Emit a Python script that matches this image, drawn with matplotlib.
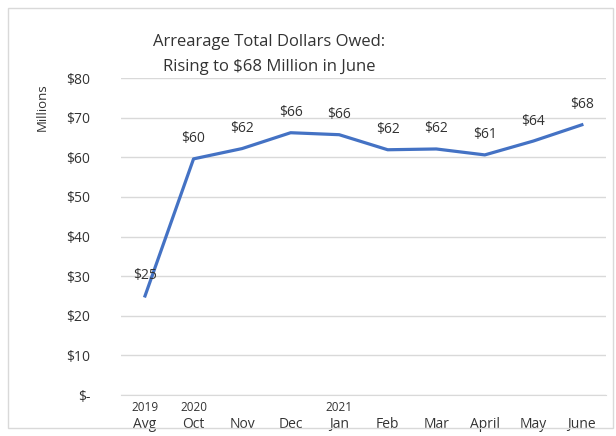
import matplotlib.pyplot as plt
from matplotlib.patches import Rectangle

months = ["Avg", "Oct", "Nov", "Dec", "Jan", "Feb", "Mar", "April", "May", "June"]
years = ["2019", "2020", "", "", "2021", "", "", "", "", ""]
owed = [25, 59.6, 62.2, 66.2, 65.7, 61.9, 62.1, 60.6, 64.1, 68.2]
labels = ["$25", "$60", "$62", "$66", "$66", "$62", "$62", "$61", "$64", "$68"]
yticks = [0, 10, 20, 30, 40, 50, 60, 70, 80]

plt.rcParams["font.family"] = ["Open Sans", "DejaVu Sans"]
txt = "#333333"

fig = plt.figure(figsize=(6.16, 4.36), dpi=100)
fig.patches.append(Rectangle((0.013, 0.018), 0.982, 0.964, transform=fig.transFigure,
                             fill=False, edgecolor="#d9d9d9", linewidth=1))

ax = fig.add_axes([0.196, 0.094, 0.788, 0.727])
x = list(range(len(months)))
ax.plot(x, owed, color="#4472C4", linewidth=2.3, zorder=3)

# data labels just above each point
for i in x:
    ax.annotate(labels[i], (i, owed[i]), xytext=(0, 9), textcoords="offset points",
                ha="center", va="bottom", fontsize=10, color=txt)

ax.set_xlim(-0.5, len(months) - 0.5)
ax.set_ylim(0, 80)
ax.set_yticks(yticks)
ax.set_yticklabels(["$-" if v == 0 else "$%d" % v for v in yticks])
ax.grid(axis="y", color="#d9d9d9", linewidth=1)
ax.set_axisbelow(True)
for s in ["top", "right", "left"]:
    ax.spines[s].set_visible(False)
ax.spines["bottom"].set_color("#d9d9d9")
ax.tick_params(axis="y", length=0, labelsize=10, labelcolor=txt, pad=22)
ax.set_xticks(x)
ax.set_xticklabels(months)
ax.tick_params(axis="x", length=0, labelsize=10, labelcolor=txt, pad=16)
for i in x:
    if years[i]:
        ax.annotate(years[i], (i, 0), xytext=(0, -4), textcoords="offset points",
                    ha="center", va="top", fontsize=8.5, color=txt)

fig.text(0.437, 0.874, "Arrearage Total Dollars Owed:\nRising to $68 Million in June",
         ha="center", va="center", fontsize=12, color=txt, linespacing=1.75)
fig.text(0.068, 0.81, "Millions", rotation=90, ha="center", va="top", fontsize=9.5, color=txt)

fig.savefig("out.png", dpi=100)
